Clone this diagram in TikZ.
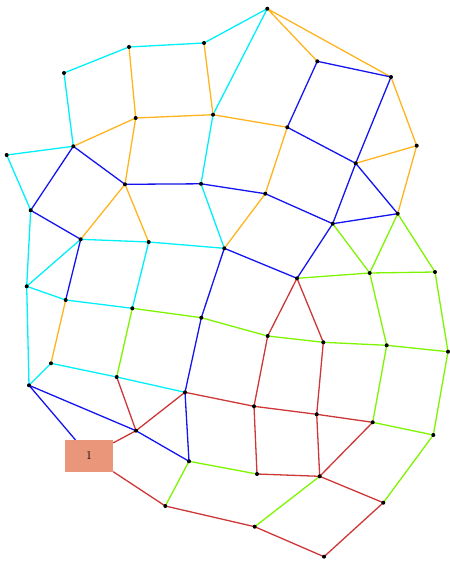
\documentclass[tikz,border=0pt]{standalone}
\usetikzlibrary{calc}
\definecolor{ccy}{RGB}{0,240,250}
\definecolor{cor}{RGB}{255,180,30}
\definecolor{cbl}{RGB}{20,20,240}
\definecolor{cgr}{RGB}{125,245,0}
\definecolor{crd}{RGB}{205,55,55}
\definecolor{cbox}{RGB}{233,150,122}
\begin{document}
\begin{tikzpicture}[x=1pt,y=-1pt,
  pt/.style={circle,fill=black,inner sep=0pt,minimum size=4pt},
  ecy/.style={draw=ccy,line width=1.3pt},
  eor/.style={draw=cor,line width=1.3pt},
  ebl/.style={draw=cbl,line width=1.3pt},
  egr/.style={draw=cgr,line width=1.3pt},
  erd/.style={draw=crd,line width=1.3pt},
  boxnode/.style={rectangle,fill=cbox,draw=none,minimum width=48pt,minimum height=31.5pt,inner sep=0pt,font=\fontsize{12}{14}\selectfont}]
\useasboundingbox (0,0) rectangle (449,561);
% coordinates
\coordinate (A) at (129,47);
\coordinate (B) at (204,43);
\coordinate (C) at (64,73);
\coordinate (D) at (135.7,118);
\coordinate (E) at (213,114.7);
\coordinate (F) at (73.3,146.3);
\coordinate (G) at (6.7,155);
\coordinate (H) at (125,184.3);
\coordinate (I) at (201,183.8);
\coordinate (J) at (267.3,8.7);
\coordinate (K) at (317.3,61.3);
\coordinate (L) at (391,77);
\coordinate (M) at (287.3,127.3);
\coordinate (N) at (416.7,145.7);
\coordinate (O) at (355.7,163.3);
\coordinate (P) at (30.7,210.3);
\coordinate (Q) at (80.7,239.3);
\coordinate (R) at (148.7,242);
\coordinate (S) at (224.3,248.3);
\coordinate (T) at (26.7,286.3);
\coordinate (U) at (65.7,300);
\coordinate (V) at (132.3,308.3);
\coordinate (W) at (201.3,317.7);
\coordinate (X) at (51,363.3);
\coordinate (Y) at (265.3,193.7);
\coordinate (Z) at (397.7,213.7);
\coordinate (AA) at (332.7,223.7);
\coordinate (AB) at (297,278.3);
\coordinate (AC) at (369.7,273);
\coordinate (AD) at (435,272);
\coordinate (AE) at (267.7,336);
\coordinate (AF) at (323.3,342.3);
\coordinate (AG) at (386.7,345.3);
\coordinate (AH) at (448,351.7);
\coordinate (AI) at (29,385.3);
\coordinate (AJ) at (116.7,377);
\coordinate (AK) at (185,392.3);
\coordinate (AL) at (136,430.7);
\coordinate (AM) at (189,461.3);
\coordinate (AN) at (165.3,506);
\coordinate (AO) at (254,406.3);
\coordinate (AP) at (316.7,414.3);
\coordinate (AQ) at (372.7,422.3);
\coordinate (AR) at (433.3,435);
\coordinate (AS) at (257,474);
\coordinate (AT) at (319.7,476.3);
\coordinate (AU) at (383.3,502.7);
\coordinate (AV) at (254.7,526.7);
\coordinate (AW) at (324,556.7);
\node[boxnode] (box) at (89,455.8) {1};
% cyan
\path[ecy] (C)--(A) (A)--(B) (B)--(J) (C)--(F) (G)--(F) (G)--(P) (J)--(E) (E)--(I) (I)--(S)
  (Q)--(R) (R)--(S) (P)--(T) (T)--(Q) (T)--(U) (U)--(V) (R)--(V) (T)--(AI) (AI)--(X)
  (X)--(AJ) (AJ)--(AK);
% orange
\path[eor] (A)--(D) (B)--(E) (F)--(D) (D)--(E) (D)--(H) (E)--(M) (J)--(K) (J)--(L) (L)--(N)
  (N)--(O) (M)--(Y) (N)--(Z) (H)--(Q) (H)--(R) (Y)--(S) (U)--(X);
% blue
\path[ebl] (F)--(P) (F)--(H) (H)--(I) (I)--(Y) (K)--(L) (K)--(M) (L)--(O) (M)--(O) (O)--(AA)
  (O)--(Z) (Y)--(AA) (AA)--(Z) (AA)--(AB) (S)--(AB) (P)--(Q) (Q)--(U) (S)--(W) (W)--(AK)
  (AI)--(AL) (AL)--(AM) (AK)--(AM) (AI)--(box);
% green
\path[egr] (AA)--(AC) (Z)--(AC) (Z)--(AD) (AB)--(AC) (AC)--(AD) (AC)--(AG) (AD)--(AH)
  (V)--(W) (W)--(AE) (AE)--(AF) (AF)--(AG) (AG)--(AH) (V)--(AJ) (AG)--(AQ) (AH)--(AR)
  (AQ)--(AR) (AR)--(AU) (AM)--(AN) (AM)--(AS) (AT)--(AV);
% red
\path[erd] (AB)--(AE) (AB)--(AF) (AE)--(AO) (AF)--(AP) (AJ)--(AL) (AK)--(AL) (AL)--(box)
  (AK)--(AO) (AO)--(AP) (AP)--(AQ) (AO)--(AS) (AP)--(AT) (AS)--(AT) (AQ)--(AT) (AT)--(AU)
  (box)--(AN) (AN)--(AV) (AV)--(AW) (AU)--(AW);
% dots
\foreach \p in {A,B,C,D,E,F,G,H,I,J,K,L,M,N,O,P,Q,R,S,T,U,V,W,X,Y,Z,AA,AB,AC,AD,AE,AF,AG,AH,AI,AJ,AK,AL,AM,AN,AO,AP,AQ,AR,AS,AT,AU,AV,AW}
  \node[pt] (d\p) at (\p) {};
\end{tikzpicture}
\end{document}
